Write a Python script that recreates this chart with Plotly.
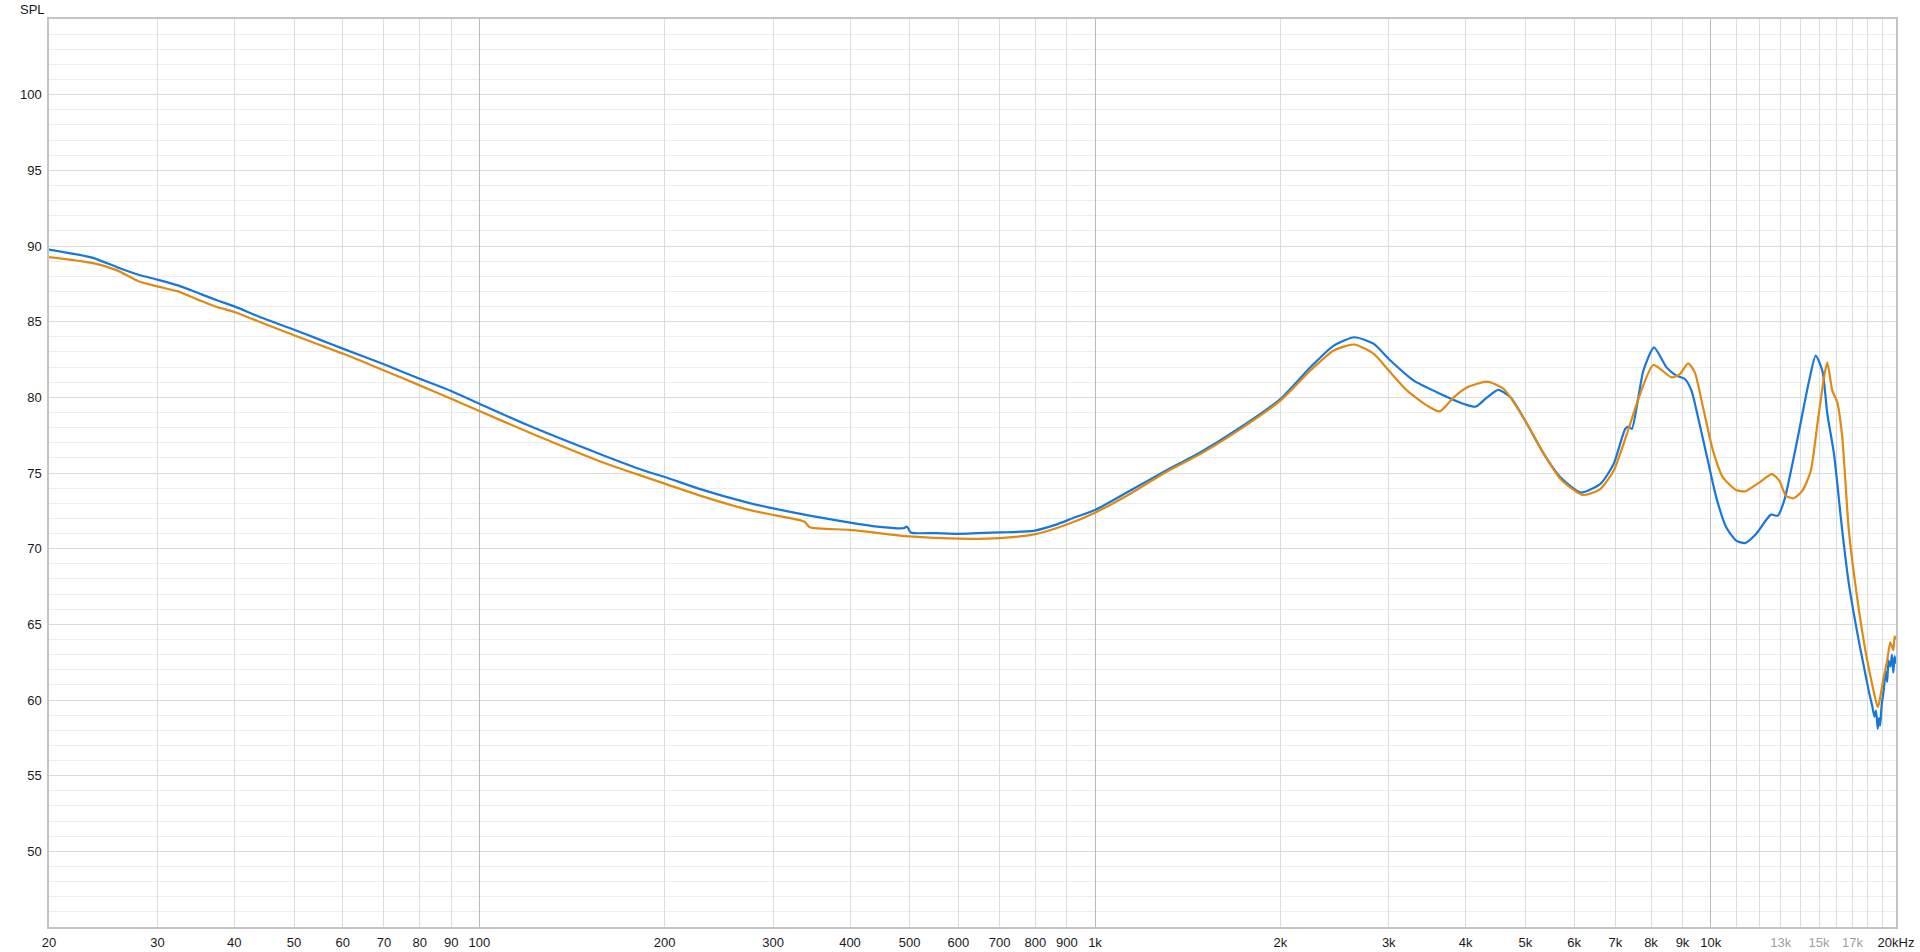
import math
import plotly.graph_objects as go

# ---- data ----
blue_freq = [20, 23.5, 25.8, 27.95, 30, 32.4, 34.6, 37.5, 40, 44, 50, 54.5, 60, 70, 80, 90, 100,
             120, 158, 185, 200, 227, 272, 300, 344, 400, 443, 488, 495, 502, 553, 600, 700, 795,
             862, 928, 1000, 1143, 1305, 1482, 1722, 2000, 2238, 2442, 2639, 2837, 3019, 3295,
             3641, 3973, 4151, 4335, 4518, 4731, 4998, 5361, 5707, 6150, 6628, 6956, 7265, 7356,
             7447, 7775, 8090, 8480, 8800, 9079, 9307, 9539, 9840, 10212, 10599, 11000, 11375,
             11850, 12528, 12849, 13166, 13751, 14450, 14814, 15186, 15471, 15859, 16358, 16768,
             17400, 17700, 18058, 18300, 18450, 18560, 18677, 18760, 18850, 18950, 19097, 19250,
             19350, 19450, 19578, 19700, 19800, 19900, 20000]
blue_spl = [89.76, 89.23, 88.6, 88.1, 87.78, 87.4, 86.96, 86.41, 86.01, 85.31, 84.47, 83.88, 83.22,
            82.18, 81.23, 80.42, 79.58, 78.15, 76.21, 75.17, 74.74, 73.97, 73.06, 72.66, 72.18,
            71.72, 71.46, 71.35, 71.45, 71.07, 71.03, 70.98, 71.07, 71.18, 71.57, 72.07, 72.55,
            73.86, 75.17, 76.36, 78.01, 79.89, 81.99, 83.42, 83.97, 83.53, 82.43, 81.1, 80.22,
            79.56, 79.38, 80.0, 80.49, 80.0, 78.45, 76.25, 74.7, 73.71, 74.3, 75.59, 77.91, 78.06,
            77.91, 81.76, 83.3, 81.98, 81.43, 81.21, 80.44, 78.68, 76.26, 73.39, 71.41, 70.53,
            70.37, 70.97, 72.25, 72.18, 73.17, 76.7, 81.1, 82.75, 81.76, 78.9, 76.26, 71.19, 67.67,
            63.92, 62.4, 60.62, 59.6, 58.9, 59.3, 58.1, 58.8, 58.3, 59.6, 60.62, 61.9,
            61.2, 62.6, 62.2, 63.0, 61.8, 62.9, 62.4]

orange_freq = [20, 23.5, 25.8, 27.95, 30, 32.4, 34.6, 37.5, 40, 44, 50, 60, 70, 80, 90, 100, 120,
               158, 172, 200, 227, 272, 300, 337, 344, 400, 500, 600, 700, 800, 900, 1000, 1143,
               1305, 1482, 1722, 2000, 2238, 2442, 2633, 2837, 3000, 3214, 3463, 3630, 3826, 4025,
               4335, 4614, 4998, 5361, 5707, 6200, 6617, 6956, 7310, 7680, 8070, 8640, 8912, 9192,
               9423, 9719, 10087, 10469, 11000, 11375, 12000, 12576, 12925, 13251, 13635, 14096,
               14542, 14907, 15279, 15471, 15760, 16056, 16358, 16768, 17294, 17838, 18288, 18677,
               18800, 19097, 19350, 19578, 19800, 19900, 20000]
orange_spl = [89.27, 88.88, 88.39, 87.67, 87.33, 87.0, 86.52, 85.97, 85.64, 84.98, 84.1, 82.89,
              81.78, 80.79, 79.91, 79.1, 77.71, 75.73, 75.2, 74.3, 73.54, 72.6, 72.23, 71.79, 71.42,
              71.24, 70.81, 70.66, 70.7, 70.96, 71.6, 72.38, 73.65, 75.07, 76.25, 77.9, 79.78,
              81.77, 83.09, 83.49, 82.87, 81.77, 80.44, 79.45, 79.07, 80.0, 80.66, 81.04, 80.55,
              78.45, 76.25, 74.59, 73.55, 73.94, 75.15, 77.58, 80.22, 82.14, 81.32, 81.54, 82.25,
              81.65, 79.34, 76.48, 74.71, 73.88, 73.79, 74.38, 74.93, 74.49, 73.5, 73.33, 73.83,
              75.15, 78.24, 81.32, 82.31, 80.44, 79.67, 77.36, 71.19, 66.78, 63.26, 61.06, 59.52,
              59.9, 61.5, 62.6, 63.81, 63.3, 64.2, 64.0]

x_tickvals = [20, 30, 40, 50, 60, 70, 80, 90, 100, 200, 300, 400, 500, 600, 700, 800, 900, 1000,
              2000, 3000, 4000, 5000, 6000, 7000, 8000, 9000, 10000, 11000, 12000, 13000, 14000,
              15000, 16000, 17000, 18000, 19000, 20000]
x_ticktext = ['20', '30', '40', '50', '60', '70', '80', '90', '100', '200', '300', '400', '500',
              '600', '700', '800', '900', '1k', '2k', '3k', '4k', '5k', '6k', '7k', '8k', '9k',
              '10k', '', '', '<span style="color:#a0a0a0">13k</span>', '',
              '<span style="color:#a0a0a0">15k</span>', '',
              '<span style="color:#a0a0a0">17k</span>', '', '', '20kHz']
decade_vals = [100, 1000, 10000]
y_tickvals = [45, 50, 55, 60, 65, 70, 75, 80, 85, 90, 95, 100, 105]
y_ticktext = ['', '50', '55', '60', '65', '70', '75', '80', '85', '90', '95', '100', '']

BLUE = '#1677dd'
ORANGE = '#e08a12'
FONT = 'Liberation Sans, Arial, Helvetica, sans-serif'
TXT = '#1a1a1a'

fig = go.Figure()
fig.add_trace(go.Scatter(x=blue_freq, y=blue_spl, mode='lines',
                         line=dict(color=BLUE, width=2.2, shape='spline', smoothing=0.6),
                         showlegend=False, hoverinfo='skip'))
fig.add_trace(go.Scatter(x=orange_freq, y=orange_spl, mode='lines',
                         line=dict(color=ORANGE, width=2.2, shape='spline', smoothing=0.6),
                         showlegend=False, hoverinfo='skip'))
# helper trace so the overlay axis (decade grid lines) is drawn
fig.add_trace(go.Scatter(x=[None], y=[None], xaxis='x2', yaxis='y', showlegend=False,
                         hoverinfo='skip'))

xr = [math.log10(20), math.log10(20000)]

fig.update_layout(
    width=1920, height=952,
    margin=dict(l=49, r=24, t=19, b=25, autoexpand=False),
    paper_bgcolor='white', plot_bgcolor='white',
    font=dict(family=FONT, size=13, color=TXT),
    xaxis=dict(type='log', range=xr, tickmode='array', tickvals=x_tickvals,
               ticktext=x_ticktext, showgrid=True, gridcolor='#dcdcdc', gridwidth=1,
               ticks='', ticklabelstandoff=3, zeroline=False, automargin=False,
               showline=True, linecolor='#c4c4c4', linewidth=1.5, mirror=True,
               tickfont=dict(family=FONT, size=13, color=TXT)),
    xaxis2=dict(type='log', range=xr, overlaying='x', tickmode='array', tickvals=decade_vals,
                showticklabels=False, showgrid=True, gridcolor='#b9b9b9', gridwidth=1,
                ticks='', zeroline=False, showline=False, automargin=False),
    yaxis=dict(range=[45, 105], tickmode='array', tickvals=y_tickvals, ticktext=y_ticktext,
               showgrid=True, gridcolor='#dcdcdc', gridwidth=1, ticks='',
               ticklabelstandoff=3, zeroline=False, automargin=False,
               showline=True, linecolor='#c4c4c4', linewidth=1.5, mirror=True,
               minor=dict(tickmode='linear', tick0=45, dtick=1, showgrid=True,
                          gridcolor='#ececec', gridwidth=1, ticks=''),
               tickfont=dict(family=FONT, size=13, color=TXT)),
    annotations=[dict(text='SPL', xref='paper', yref='paper', x=0, y=1, xanchor='right',
                      yanchor='bottom', xshift=-2, yshift=0, showarrow=False,
                      font=dict(family=FONT, size=13, color=TXT))],
)

# remove the default 8px page margin so the figure fills the window exactly
fig.write_html('out.html',
               config={'displayModeBar': False},
               post_script="document.body.style.margin='0px';document.body.style.overflow='hidden';")
